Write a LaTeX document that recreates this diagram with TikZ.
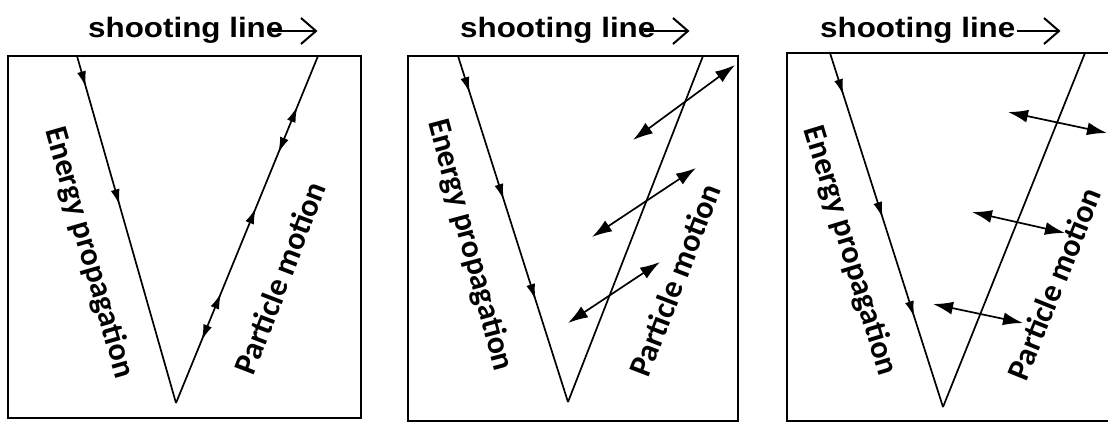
\documentclass[tikz,border=0pt]{standalone}
\usepackage{fontspec}
\setmainfont{Liberation Sans}
\newfontfamily\labelfont{Carlito}
\usetikzlibrary{arrows.meta,decorations.markings}

\begin{document}
\begin{tikzpicture}[x=1pt,y=-1pt,
  panel/.style={draw,line width=2pt},
  wave/.style={line width=1.7pt},
  midarr/.style={postaction={decorate,decoration={markings,
      mark=at position #1 with {\arrow{Latex[length=16pt,width=9pt]}}}}},
  midrev/.style={postaction={decorate,decoration={markings,
      mark=at position #1 with {\arrowreversed{Latex[length=16pt,width=9pt]}}}}},
  swing/.style={line width=1.7pt,{Latex[length=20pt,width=13pt]}-{Latex[length=20pt,width=13pt]}},
  title/.style={font=\fontsize{28}{32}\selectfont\bfseries,inner sep=0pt,anchor=base west},
  shoot/.style={line width=2pt,-{Straight Barb[length=15pt,width=26pt]}},
  lbl/.style={font=\labelfont\fontsize{32}{36}\selectfont\bfseries,inner sep=0pt}
]
  \useasboundingbox (0,0) rectangle (1108,424);
  \clip (0,0) rectangle (1108,424);

  % Panel 1: P wave
  \node[title] (t1) at (88,37) {\scalebox{1.12}[1]{shooting line}};
  \draw[shoot] ([xshift=-12pt,yshift=6pt]t1.base east) -- ++(46,0);
  \draw[panel] (8,56) rectangle (361,418);
  \coordinate (e1) at (77,56);
  \coordinate (v1) at (176,403);
  \coordinate (p1) at (318,56);
  \draw[wave,midarr=0.09,midarr=0.43] (e1) -- (v1);
  \draw[wave,midarr=0.855,midrev=0.72,midarr=0.562,midarr=0.317,midrev=0.18] (v1) -- (p1);
  \node[lbl,rotate=-74] (en1) at (89,253) {Energy propagation};
  \node[lbl,rotate=69] (pm1) at (280,278) {Particle motion};

  % Panel 2: SV wave
  \node[title] (t2) at (460,37) {\scalebox{1.12}[1]{shooting line}};
  \draw[shoot] ([xshift=-12pt,yshift=6pt]t2.base east) -- ++(46,0);
  \draw[panel] (408,56) rectangle (738,421);
  \coordinate (e2) at (458,56);
  \coordinate (v2) at (568,402);
  \coordinate (p2) at (703,56);
  \draw[wave,midarr=0.107,midarr=0.416,midarr=0.705] (e2) -- (v2);
  \draw[wave] (v2) -- (p2);
  \coordinate (s2a) at (633,140); \coordinate (s2b) at (735,65);
  \coordinate (s2c) at (592,237); \coordinate (s2d) at (696,168);
  \coordinate (s2e) at (568,323); \coordinate (s2f) at (660,262);
  \draw[swing] (s2a) -- (s2b);
  \draw[swing] (s2c) -- (s2d);
  \draw[swing] (s2e) -- (s2f);
  \node[lbl,rotate=-75] (en2) at (470,245) {Energy propagation};
  \node[lbl,rotate=69] (pm2) at (675,280) {Particle motion};

  % Panel 3: SH wave
  \node[title] (t3) at (820,37) {\scalebox{1.12}[1]{shooting line}};
  \draw[shoot] ([xshift=1pt,yshift=6pt]t3.base east) -- ++(44,0);
  \draw[panel,line width=2.4pt] (787,53) rectangle (1125,421);
  \coordinate (e3) at (830,53);
  \coordinate (v3) at (943,407);
  \coordinate (p3) at (1085,53);
  \draw[wave,midarr=0.119,midarr=0.466,midarr=0.746] (e3) -- (v3);
  \draw[wave] (v3) -- (p3);
  \coordinate (s3a) at (1008,112); \coordinate (s3b) at (1107,133);
  \coordinate (s3c) at (972,212);  \coordinate (s3d) at (1065,233);
  \coordinate (s3e) at (933,304);  \coordinate (s3f) at (1023,323);
  \draw[swing] (s3a) -- (s3b);
  \draw[swing] (s3c) -- (s3d);
  \draw[swing] (s3e) -- (s3f);
  \node[lbl,rotate=-73] (en3) at (850,251) {Energy propagation};
  \node[lbl,rotate=68] (pm3) at (1054,284) {Particle motion};
\end{tikzpicture}
\end{document}
